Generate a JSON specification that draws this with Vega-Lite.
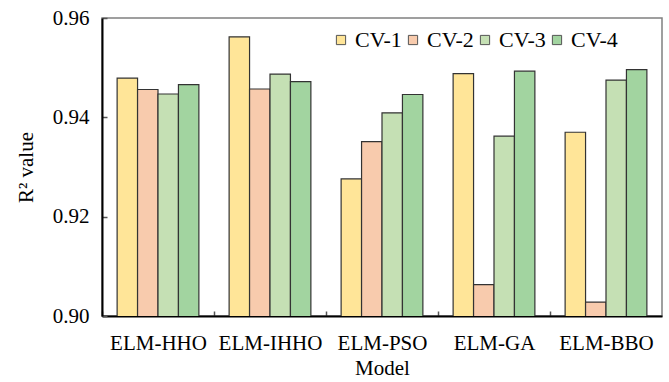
{
  "$schema": "https://vega.github.io/schema/vega-lite/v6.json",
  "autosize": "none",
  "width": 560,
  "height": 298,
  "padding": {"left": 102, "top": 18, "right": 7, "bottom": 66},
  "background": "white",
  "config": {
    "font": "Liberation Serif",
    "view": {"stroke": "#808080", "strokeWidth": 1.5},
    "axis": {"labelFont": "Liberation Serif", "titleFont": "Liberation Serif", "labelColor": "#000", "titleColor": "#000", "labelFontSize": 21, "titleFontSize": 21, "titleFontWeight": "normal", "grid": false, "domainColor": "#000", "domainWidth": 2, "tickColor": "#555", "tickWidth": 1.5},
    "legend": {"labelFont": "Liberation Serif", "labelFontSize": 22, "labelColor": "#000"}
  },
  "data": {"values": [
    {"model": "ELM-HHO", "cv": "CV-1", "r2": 0.9479},
    {"model": "ELM-HHO", "cv": "CV-2", "r2": 0.9456},
    {"model": "ELM-HHO", "cv": "CV-3", "r2": 0.9447},
    {"model": "ELM-HHO", "cv": "CV-4", "r2": 0.9466},
    {"model": "ELM-IHHO", "cv": "CV-1", "r2": 0.9562},
    {"model": "ELM-IHHO", "cv": "CV-2", "r2": 0.9457},
    {"model": "ELM-IHHO", "cv": "CV-3", "r2": 0.9487},
    {"model": "ELM-IHHO", "cv": "CV-4", "r2": 0.9472},
    {"model": "ELM-PSO", "cv": "CV-1", "r2": 0.9276},
    {"model": "ELM-PSO", "cv": "CV-2", "r2": 0.9351},
    {"model": "ELM-PSO", "cv": "CV-3", "r2": 0.9409},
    {"model": "ELM-PSO", "cv": "CV-4", "r2": 0.9446},
    {"model": "ELM-GA", "cv": "CV-1", "r2": 0.9488},
    {"model": "ELM-GA", "cv": "CV-2", "r2": 0.9063},
    {"model": "ELM-GA", "cv": "CV-3", "r2": 0.9362},
    {"model": "ELM-GA", "cv": "CV-4", "r2": 0.9493},
    {"model": "ELM-BBO", "cv": "CV-1", "r2": 0.9370},
    {"model": "ELM-BBO", "cv": "CV-2", "r2": 0.9028},
    {"model": "ELM-BBO", "cv": "CV-3", "r2": 0.9475},
    {"model": "ELM-BBO", "cv": "CV-4", "r2": 0.9496}
  ]},
  "mark": {"type": "bar", "stroke": "#333", "strokeWidth": 1.2, "clip": true},
  "encoding": {
    "x": {
      "field": "model", "type": "nominal", "sort": null,
      "scale": {"paddingInner": 0.27, "paddingOuter": 0.135},
      "axis": {"title": "Model", "labelAngle": 0, "tickSize": -5, "tickOffset": -56, "labelOffset": 56, "labelPadding": 21, "titlePadding": 4}
    },
    "xOffset": {"field": "cv", "type": "nominal", "sort": ["CV-1", "CV-2", "CV-3", "CV-4"]},
    "y": {
      "field": "r2", "type": "quantitative",
      "scale": {"domain": [0.9, 0.96], "zero": false, "nice": false},
      "axis": {"title": "R² value", "values": [0.9, 0.92, 0.94, 0.96], "format": ".2f", "tickSize": -5, "labelPadding": 18, "titlePadding": 16}
    },
    "color": {
      "field": "cv", "type": "nominal",
      "scale": {"domain": ["CV-1", "CV-2", "CV-3", "CV-4"], "range": ["#FFE598", "#F8CBAD", "#C5E0B4", "#A2D4A0"]},
      "legend": {"title": null, "orient": "none", "direction": "horizontal", "legendX": 228, "legendY": 11, "symbolType": "square", "symbolSize": 85, "symbolStrokeColor": "#555", "symbolStrokeWidth": 1, "labelFontSize": 22, "labelFont": "Liberation Serif", "labelColor": "#000", "labelOffset": 3, "columnPadding": -2}
    }
  }
}
